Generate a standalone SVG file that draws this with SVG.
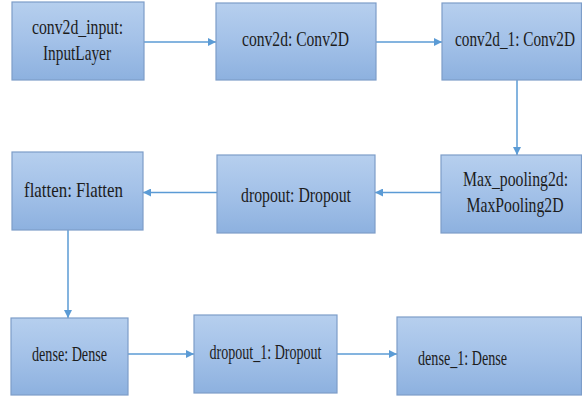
<svg xmlns="http://www.w3.org/2000/svg" width="582" height="400" viewBox="0 0 582 400">
<defs>
<linearGradient id="g" x1="0" y1="0" x2="0" y2="1">
<stop offset="0" stop-color="#b6cfee"/>
<stop offset="0.5" stop-color="#a3c1e8"/>
<stop offset="1" stop-color="#8db1df"/>
</linearGradient>
<marker id="ah" viewBox="0 0 10 10" refX="10" refY="5" markerWidth="8" markerHeight="8" markerUnits="userSpaceOnUse" orient="auto">
<path d="M0,0 L10,5 L0,10 z" fill="#5b9bd5"/>
</marker>
<style>
.box{fill:url(#g);stroke:#7d9dc9;stroke-width:1.2}
.t{font-family:'Liberation Serif','DejaVu Serif',serif;font-size:15.5px;fill:#1c1c1c;text-anchor:middle}
.c{stroke:#5b9bd5;stroke-width:1.5;fill:none;marker-end:url(#ah)}
</style>
</defs>
<rect width="582" height="400" fill="#ffffff"/>
<g id="connectors">
<line class="c" x1="144" y1="42" x2="216" y2="42"/>
<line class="c" x1="376" y1="42" x2="442" y2="42"/>
<line class="c" x1="517" y1="80" x2="517" y2="155"/>
<line class="c" x1="441" y1="192.5" x2="375" y2="192.5"/>
<line class="c" x1="217" y1="192.5" x2="143" y2="192.5"/>
<line class="c" x1="68" y1="230" x2="68" y2="318"/>
<line class="c" x1="128" y1="354" x2="194" y2="354"/>
<line class="c" x1="337" y1="354" x2="397" y2="354"/>
</g>
<g id="conv2d_input">
<rect class="box" x="12" y="2" width="132" height="78"/>
<text class="t" transform="translate(77.5,34) scale(1,1.3)" textLength="91" lengthAdjust="spacingAndGlyphs">conv2d_input:</text>
<text class="t" transform="translate(77,60) scale(1,1.3)" textLength="68" lengthAdjust="spacingAndGlyphs">InputLayer</text>
</g>
<g id="conv2d">
<rect class="box" x="216" y="3" width="160" height="77"/>
<text class="t" transform="translate(295.5,46) scale(1,1.3)" textLength="107" lengthAdjust="spacingAndGlyphs">conv2d: Conv2D</text>
</g>
<g id="conv2d_1">
<rect class="box" x="442" y="3" width="139.5" height="77"/>
<text class="t" transform="translate(515,46) scale(1,1.3)" textLength="120" lengthAdjust="spacingAndGlyphs">conv2d_1: Conv2D</text>
</g>
<g id="max_pooling2d">
<rect class="box" x="441" y="155" width="140.5" height="78"/>
<text class="t" transform="translate(515.5,186) scale(1,1.3)" textLength="105" lengthAdjust="spacingAndGlyphs">Max_pooling2d:</text>
<text class="t" transform="translate(515,212) scale(1,1.3)" textLength="97" lengthAdjust="spacingAndGlyphs">MaxPooling2D</text>
</g>
<g id="dropout">
<rect class="box" x="217" y="155" width="158" height="78"/>
<text class="t" transform="translate(296,202) scale(1,1.3)" textLength="110" lengthAdjust="spacingAndGlyphs">dropout: Dropout</text>
</g>
<g id="flatten">
<rect class="box" x="12" y="152" width="131" height="78"/>
<text class="t" transform="translate(73.5,197) scale(1,1.3)" textLength="99" lengthAdjust="spacingAndGlyphs">flatten: Flatten</text>
</g>
<g id="dense">
<rect class="box" x="11" y="318" width="117" height="77"/>
<text class="t" transform="translate(69.5,361) scale(1,1.3)" textLength="75" lengthAdjust="spacingAndGlyphs">dense: Dense</text>
</g>
<g id="dropout_1">
<rect class="box" x="194" y="315" width="143" height="78"/>
<text class="t" transform="translate(265.5,359) scale(1,1.3)" textLength="112" lengthAdjust="spacingAndGlyphs">dropout_1: Dropout</text>
</g>
<g id="dense_1">
<rect class="box" x="397" y="317" width="184.5" height="78"/>
<text class="t" transform="translate(462.5,365) scale(1,1.3)" textLength="89" lengthAdjust="spacingAndGlyphs">dense_1: Dense</text>
</g>
</svg>
